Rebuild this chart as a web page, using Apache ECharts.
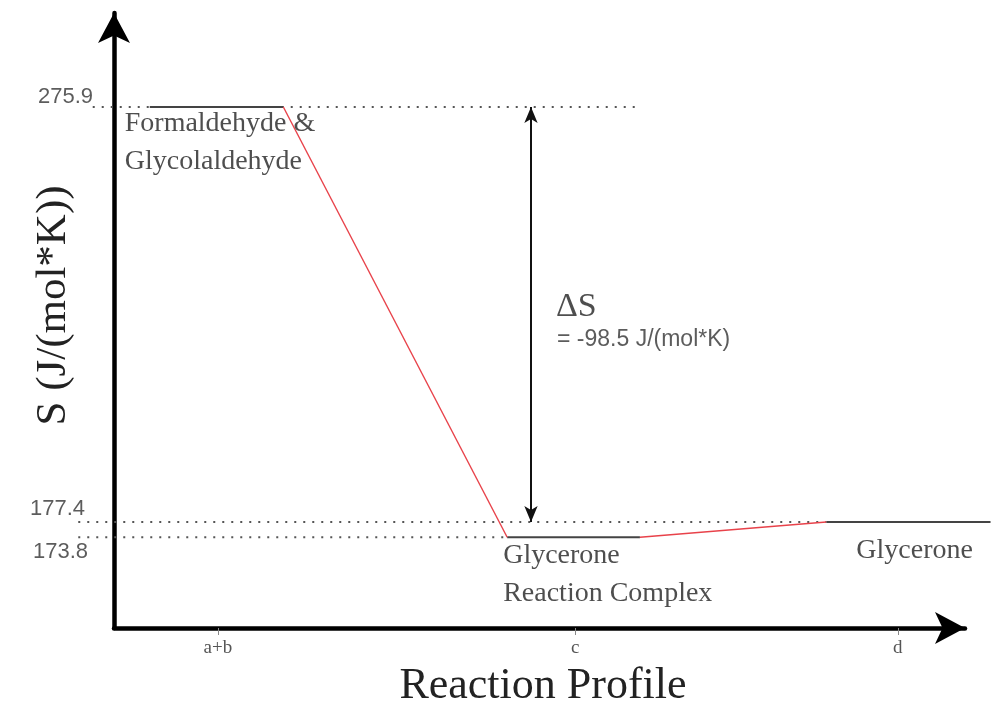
<!DOCTYPE html>
<html>
<head>
<meta charset="utf-8">
<script src="https://cdn.jsdelivr.net/npm/echarts@6/dist/echarts.min.js"></script>
<style>html,body{margin:0;padding:0;background:#fff}#c{width:991px;height:713px}</style>
</head>
<body>
<div id="c"></div>
<script>
// ---- data ----
const stages = ['a+b', 'c', 'd'];
const stageX = [12.2, 54.2, 92.1];
const species = ['Formaldehyde &\nGlycolaldehyde', 'Glycerone\nReaction Complex', 'Glycerone'];
const entropy = [275.9, 173.8, 177.4];
const levelStart = [4.2, 46.2, 83.7];
const levelEnd = [19.9, 61.8, 103.0];
const guideValues = [275.9, 177.4, 173.8];
const guideFrom = [-2.5, -4.2, -4.2];
const guideTo = [61.2, 83.7, 46.2];
const deltaX = 49.0;
const yTickLabels = ['275.9', '177.4', '173.8'];

const serif = '"Liberation Serif", "Times New Roman", serif';
const sans = '"Liberation Sans", Arial, sans-serif';
const textColor = '#222';

// ---- layout ----
const W = 991;
const G = {left: 114, right: 26, top: 13, bottom: 78};
const X_MIN = 0, X_MAX = 100, Y_MIN = 150.6, Y_MAX = 298.2;
const pxPerUnit = (W - G.left - G.right) / (X_MAX - X_MIN);
const X2_MIN = X_MIN - G.left / pxPerUnit;
const X2_MAX = X_MAX + G.right / pxPerUnit;

const chart = echarts.init(document.getElementById('c'), null, {renderer: 'canvas'});

const onData = {xAxisIndex: 1, yAxisIndex: 1};
const series = [];
// dotted guides
guideValues.forEach((v, i) => {
  series.push(Object.assign({
    type: 'line', symbol: 'none', silent: true, z: 1,
    data: [[guideFrom[i], v], [guideTo[i], v]],
    lineStyle: {color: '#555', width: 2, type: [2, 7]}
  }, onData));
});
// plateaus
entropy.forEach((v, i) => {
  series.push(Object.assign({
    type: 'line', symbol: 'none', silent: true, z: 3,
    data: [[levelStart[i], v], [levelEnd[i], v]],
    lineStyle: {color: '#444', width: 2}
  }, onData));
});
// red connectors
for (let i = 0; i < entropy.length - 1; i++) {
  series.push(Object.assign({
    type: 'line', symbol: 'none', silent: true, z: 3,
    data: [[levelEnd[i], entropy[i]], [levelStart[i + 1], entropy[i + 1]]],
    lineStyle: {color: '#e8424a', width: 1.4}
  }, onData));
}
// delta S double arrow
const dS = (entropy[2] - entropy[0]);
series.push(Object.assign({
  type: 'line', data: [], silent: true,
  markLine: {
    silent: true, animation: false,
    symbol: ['arrow', 'arrow'], symbolSize: [10, 16],
    lineStyle: {color: '#111', width: 2, type: 'solid'},
    label: {show: false},
    data: [[{coord: [deltaX, entropy[0]]}, {coord: [deltaX, entropy[2]]}]]
  }
}, onData));

// species labels
const speciesOffsets = [[-25, -2], [-4, -1], [30, 10]];
series.push(Object.assign({
  type: 'scatter', symbolSize: 0, silent: true, z: 5,
  data: species.map((s, i) => ({
    value: [levelStart[i], entropy[i]],
    label: {
      show: true, formatter: s, position: speciesOffsets[i],
      align: 'left', verticalAlign: 'top',
      fontFamily: serif, fontSize: 28, lineHeight: 38, color: textColor
    }
  }))
}, onData));
// y value labels
const yLabOffsets = [[-21, -10], [-29, -13], [-26, 15]];
series.push(Object.assign({
  type: 'scatter', symbolSize: 0, silent: true, z: 5,
  data: guideValues.map((v, i) => ({
    value: [0, v],
    label: {
      show: true, formatter: yTickLabels[i], position: yLabOffsets[i],
      align: 'right', verticalAlign: 'middle',
      fontFamily: sans, fontSize: 22, color: '#333'
    }
  }))
}, onData));
// delta S annotation
const mid = (entropy[0] + entropy[2]) / 2;
series.push(Object.assign({
  type: 'scatter', symbolSize: 0, silent: true, z: 5,
  data: [
    {value: [deltaX, mid], label: {show: true, formatter: 'ΔS', position: [25, -7],
      align: 'left', verticalAlign: 'middle', fontFamily: serif, fontSize: 34, color: textColor}},
    {value: [deltaX, mid], label: {show: true, formatter: '= ' + dS.toFixed(1) + ' J/(mol*K)', position: [26, 25],
      align: 'left', verticalAlign: 'middle', fontFamily: sans, fontSize: 23, color: '#333'}}
  ]
}, onData));

chart.setOption({
  animation: false,
  backgroundColor: '#fff',
  grid: [
    {left: G.left, right: G.right, top: G.top, bottom: G.bottom, containLabel: false},
    {left: 0, right: 0, top: G.top, bottom: G.bottom, containLabel: false}
  ],
  xAxis: [{
    gridIndex: 0, type: 'value', min: X_MIN, max: X_MAX,
    name: 'Reaction Profile', nameLocation: 'middle', nameGap: 36,
    nameTextStyle: {fontFamily: serif, fontSize: 44, color: textColor, padding: [0, 0, 0, 7]},
    axisLine: {show: true, symbol: ['none', 'arrow'], symbolSize: [24, 30],
      lineStyle: {color: '#000', width: 4.5}},
    axisTick: {show: true, customValues: stageX, length: 7, lineStyle: {color: '#888', width: 1}},
    axisLabel: {show: true, customValues: stageX, margin: 11,
      formatter: v => { const k = stageX.indexOf(v); return k >= 0 ? stages[k] : ''; },
      fontFamily: serif, fontSize: 19, color: '#555'},
    splitLine: {show: false}
  }, {
    gridIndex: 1, type: 'value', min: X2_MIN, max: X2_MAX, show: false,
    splitLine: {show: false}
  }],
  yAxis: [{
    gridIndex: 0, type: 'value', min: Y_MIN, max: Y_MAX,
    name: 'S (J/(mol*K))', nameLocation: 'middle', nameGap: 39, nameRotate: 90,
    nameTextStyle: {fontFamily: serif, fontSize: 43, color: textColor, padding: [0, 0, 0, 30]},
    axisLine: {show: true, symbol: ['none', 'arrow'], symbolSize: [24, 30],
      lineStyle: {color: '#000', width: 4.5}},
    axisTick: {show: false},
    axisLabel: {show: false},
    splitLine: {show: false}
  }, {
    gridIndex: 1, type: 'value', min: Y_MIN, max: Y_MAX, show: false,
    splitLine: {show: false}
  }],
  series: series
});
</script>
</body>
</html>
